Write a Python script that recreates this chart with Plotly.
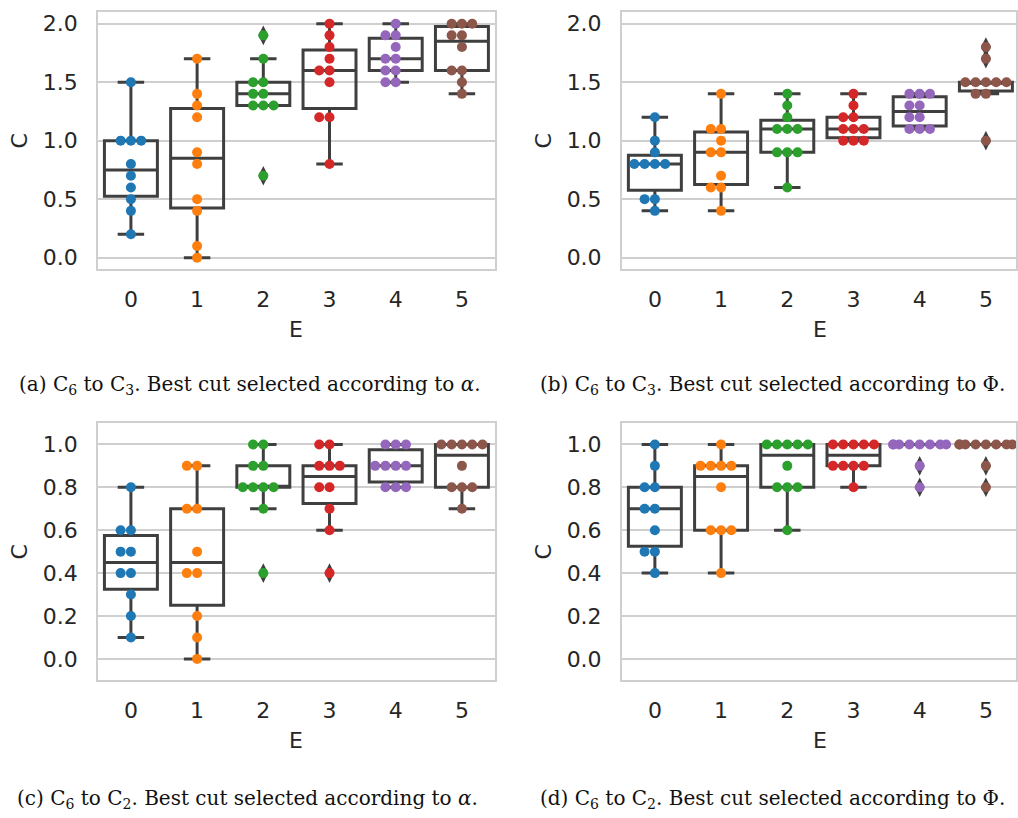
import numpy as np
import plotly.graph_objects as go

W, H = 1018, 818

categories = [0, 1, 2, 3, 4, 5]
tick_labels = ["0", "1", "2", "3", "4", "5"]
colors = ["#1f77b4", "#ff7f0e", "#2ca02c", "#d62728", "#9467bd", "#8c564b"]

# (a) C6 to C3, best cut by alpha
panel_a = [
    [0.2, 0.4, 0.5, 0.6, 0.7, 0.8, 1.0, 1.0, 1.0, 1.5],
    [0.0, 0.1, 0.4, 0.5, 0.8, 0.9, 1.2, 1.3, 1.4, 1.7],
    [0.7, 1.3, 1.3, 1.3, 1.4, 1.4, 1.5, 1.5, 1.7, 1.9],
    [0.8, 1.2, 1.2, 1.5, 1.6, 1.6, 1.7, 1.8, 1.9, 2.0],
    [1.5, 1.5, 1.6, 1.6, 1.7, 1.7, 1.8, 1.9, 1.9, 2.0],
    [1.4, 1.5, 1.6, 1.6, 1.8, 1.9, 1.9, 2.0, 2.0, 2.0],
]
# (b) C6 to C3, best cut by Phi
panel_b = [
    [0.4, 0.5, 0.5, 0.8, 0.8, 0.8, 0.8, 0.9, 1.0, 1.2],
    [0.4, 0.6, 0.6, 0.7, 0.9, 0.9, 1.0, 1.1, 1.1, 1.4],
    [0.6, 0.9, 0.9, 0.9, 1.1, 1.1, 1.1, 1.2, 1.3, 1.4],
    [1.0, 1.0, 1.0, 1.1, 1.1, 1.1, 1.2, 1.2, 1.3, 1.4],
    [1.1, 1.1, 1.1, 1.2, 1.2, 1.3, 1.3, 1.4, 1.4, 1.4],
    [1.0, 1.4, 1.4, 1.5, 1.5, 1.5, 1.5, 1.5, 1.7, 1.8],
]
# (c) C6 to C2, best cut by alpha
panel_c = [
    [0.1, 0.2, 0.3, 0.4, 0.4, 0.5, 0.5, 0.6, 0.6, 0.8],
    [0.0, 0.1, 0.2, 0.4, 0.4, 0.5, 0.7, 0.7, 0.9, 0.9],
    [0.4, 0.7, 0.8, 0.8, 0.8, 0.8, 0.9, 0.9, 1.0, 1.0],
    [0.4, 0.6, 0.7, 0.8, 0.8, 0.9, 0.9, 0.9, 1.0, 1.0],
    [0.8, 0.8, 0.8, 0.9, 0.9, 0.9, 0.9, 1.0, 1.0, 1.0],
    [0.7, 0.8, 0.8, 0.8, 0.9, 1.0, 1.0, 1.0, 1.0, 1.0],
]
# (d) C6 to C2, best cut by Phi
panel_d = [
    [0.4, 0.5, 0.5, 0.6, 0.7, 0.7, 0.8, 0.8, 0.9, 1.0],
    [0.4, 0.6, 0.6, 0.6, 0.8, 0.9, 0.9, 0.9, 0.9, 1.0],
    [0.6, 0.8, 0.8, 0.8, 0.9, 1.0, 1.0, 1.0, 1.0, 1.0],
    [0.8, 0.9, 0.9, 0.9, 0.9, 1.0, 1.0, 1.0, 1.0, 1.0],
    [0.8, 0.9, 1.0, 1.0, 1.0, 1.0, 1.0, 1.0, 1.0, 1.0],
    [0.8, 0.9, 1.0, 1.0, 1.0, 1.0, 1.0, 1.0, 1.0, 1.0],
]

captions = [
    "(a) C<sub>6</sub> to C<sub>3</sub>. Best cut selected according to <i>α</i>.",
    "(b) C<sub>6</sub> to C<sub>3</sub>. Best cut selected according to Φ.",
    "(c) C<sub>6</sub> to C<sub>2</sub>. Best cut selected according to <i>α</i>.",
    "(d) C<sub>6</sub> to C<sub>2</sub>. Best cut selected according to Φ.",
]

top_yticks = [0.0, 0.5, 1.0, 1.5, 2.0]
bot_yticks = [0.0, 0.2, 0.4, 0.6, 0.8, 1.0]

# ---- layout geometry (pixels) ----
LEFT_X = (98, 496)
RIGHT_X = (623, 1018)
TOP_Y = (11, 269)
BOT_Y = (423, 681)
CAT_PX = (LEFT_X[1] - LEFT_X[0]) / 6.0
right_xmax = -0.5 + (RIGHT_X[1] - RIGHT_X[0]) / CAT_PX

panels = [
    dict(data=panel_a, xs=LEFT_X, ys=TOP_Y, yr=[-0.1, 2.1], yt=top_yticks, xr=[-0.5, 5.5]),
    dict(data=panel_b, xs=RIGHT_X, ys=TOP_Y, yr=[-0.1, 2.1], yt=top_yticks, xr=[-0.5, right_xmax]),
    dict(data=panel_c, xs=LEFT_X, ys=BOT_Y, yr=[-0.1, 1.1], yt=bot_yticks, xr=[-0.5, 5.5]),
    dict(data=panel_d, xs=RIGHT_X, ys=BOT_Y, yr=[-0.1, 1.1], yt=bot_yticks, xr=[-0.5, right_xmax]),
]

DOT = 10.0
SPACING = DOT * 1.03
LINE = "#3f3f3f"
TXT = "#262626"
GRID = "#cfcfcf"


def swarm_offsets(values, ypx, xpx, half_width=0.4):
    vals = np.asarray(values, dtype=float)
    order = np.argsort(vals, kind="stable")
    placed = []
    offs = np.zeros(len(vals))
    d = SPACING
    for i in order:
        y = vals[i] * ypx
        cands = [0.0]
        for px, py in placed:
            dy = y - py
            if abs(dy) < d:
                dx = np.sqrt(d * d - dy * dy)
                cands += [px - dx, px + dx]
        cands = sorted(cands, key=lambda c: (round(abs(c), 6), c))
        chosen = cands[-1]
        for c in cands:
            if all((c - px) ** 2 + (y - py) ** 2 >= d * d - 1e-6 for px, py in placed):
                chosen = c
                break
        placed.append((chosen, y))
        offs[i] = chosen
    offs = offs / xpx
    return np.clip(offs, -half_width, half_width)


def box_stats(values):
    v = np.asarray(values, dtype=float)
    q1, med, q3 = np.percentile(v, [25, 50, 75])
    iqr = q3 - q1
    lo_lim, hi_lim = q1 - 1.5 * iqr, q3 + 1.5 * iqr
    inside = v[(v >= lo_lim - 1e-9) & (v <= hi_lim + 1e-9)]
    lo, hi = inside.min(), inside.max()
    out = v[(v < lo_lim - 1e-9) | (v > hi_lim + 1e-9)]
    return q1, med, q3, lo, hi, out


fig = go.Figure()
layout = dict(
    width=W, height=H, margin=dict(l=0, r=0, t=0, b=0),
    paper_bgcolor="white", plot_bgcolor="white", showlegend=False,
    boxmode="overlay",
)
annotations = []

for k, p in enumerate(panels):
    sfx = "" if k == 0 else str(k + 1)
    xa, ya = "x" + sfx, "y" + sfx
    x0, x1 = p["xs"]
    y0, y1 = p["ys"]
    xpx = CAT_PX
    ypx = (y1 - y0) / (p["yr"][1] - p["yr"][0])

    stats = [box_stats(v) for v in p["data"]]
    fig.add_trace(go.Box(
        x=categories,
        q1=[s[0] for s in stats], median=[s[1] for s in stats], q3=[s[2] for s in stats],
        lowerfence=[s[3] for s in stats], upperfence=[s[4] for s in stats],
        width=0.8, whiskerwidth=0.5,
        line=dict(color=LINE, width=3), fillcolor="rgba(0,0,0,0)",
        boxpoints=False, hoverinfo="skip", xaxis=xa, yaxis=ya,
    ))
    ox, oy = [], []
    for ci, s in enumerate(stats):
        for val in s[5]:
            ox.append(categories[ci])
            oy.append(val)
    if ox:
        fig.add_trace(go.Scatter(
            x=ox, y=oy, mode="markers",
            marker=dict(symbol="diamond-tall", size=14, color=LINE, line=dict(width=0)),
            hoverinfo="skip", xaxis=xa, yaxis=ya,
        ))
    for ci, vals in enumerate(p["data"]):
        offs = swarm_offsets(vals, ypx, xpx)
        fig.add_trace(go.Scatter(
            x=categories[ci] + offs, y=vals, mode="markers",
            marker=dict(size=DOT, color=colors[ci], line=dict(width=0)),
            xaxis=xa, yaxis=ya,
        ))

    xname = "xaxis" + sfx
    yname = "yaxis" + sfx
    layout[xname] = dict(
        domain=[x0 / W, x1 / W], range=p["xr"], anchor=ya,
        tickvals=categories, ticktext=tick_labels, showgrid=False, zeroline=False,
        showline=True, mirror=True, linecolor=GRID, linewidth=1.5, ticks="",
        ticklabelstandoff=10,
        tickfont=dict(family="DejaVu Sans", size=22, color=TXT),
    )
    layout[yname] = dict(
        domain=[1 - y1 / H, 1 - y0 / H], range=p["yr"], anchor=xa,
        tickvals=p["yt"], ticktext=["%.1f" % t for t in p["yt"]],
        showgrid=True, gridcolor=GRID, gridwidth=1.5, zeroline=False,
        showline=True, mirror=True, linecolor=GRID, linewidth=1.5, ticks="",
        ticklabelstandoff=14,
        tickfont=dict(family="DejaVu Sans", size=22, color=TXT),
    )
    # axis titles
    annotations.append(dict(
        text="C", x=(x0 - 78) / W, y=1 - ((y0 + y1) / 2) / H, xref="paper", yref="paper",
        showarrow=False, textangle=-90, xanchor="center", yanchor="middle",
        font=dict(family="DejaVu Sans", size=22, color=TXT),
    ))
    annotations.append(dict(
        text="E", x=(x0 + 3 * CAT_PX) / W, y=1 - (y1 + 60) / H, xref="paper", yref="paper",
        showarrow=False, xanchor="center", yanchor="middle",
        font=dict(family="DejaVu Sans", size=22, color=TXT),
    ))

cap_pos = [(250, 385), (774, 385), (248, 800), (774, 800)]
for cap, (cx, cy) in zip(captions, cap_pos):
    annotations.append(dict(
        text=cap, x=cx / W, y=1 - cy / H, xref="paper", yref="paper",
        showarrow=False, xanchor="center", yanchor="middle",
        font=dict(family="DejaVu Serif", size=20, color="#111111"),
    ))

layout["annotations"] = annotations
fig.update_layout(**layout)
fig.write_html("out.html")
